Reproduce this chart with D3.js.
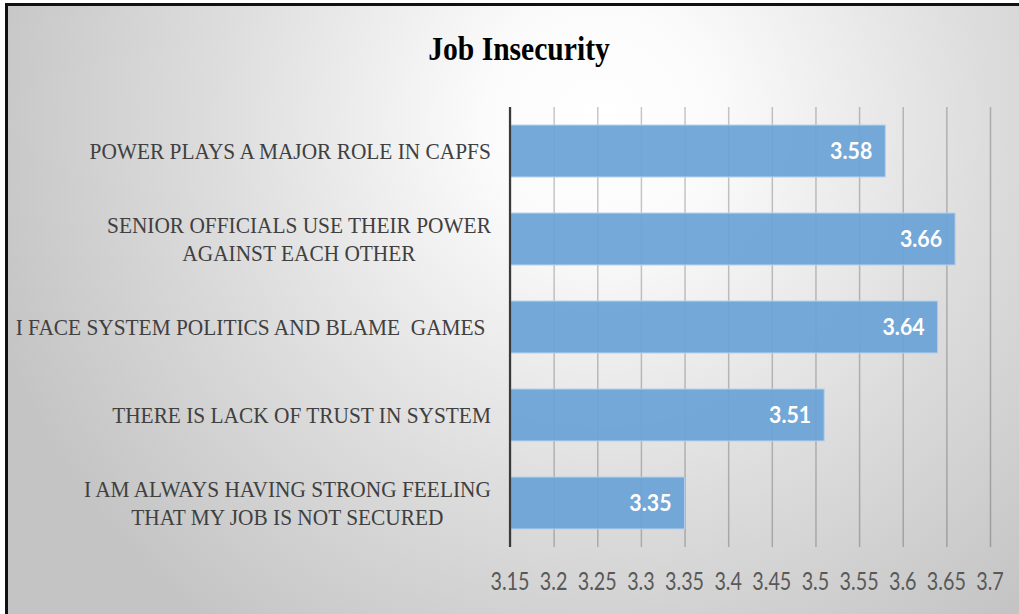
<!DOCTYPE html>
<html>
<head>
<meta charset="utf-8">
<script src="https://cdn.jsdelivr.net/npm/d3@7"></script>
<style>
  html, body { margin: 0; padding: 0; background: #ffffff; }
  svg { display: block; }
</style>
</head>
<body>
<svg id="chart" width="1019" height="614"></svg>
<script>
// ---- data ----
const title = "Job Insecurity";
const categories = [
  ["POWER PLAYS A MAJOR ROLE IN CAPFS"],
  ["SENIOR OFFICIALS USE THEIR POWER", "AGAINST EACH OTHER"],
  ["I FACE SYSTEM POLITICS AND BLAME  GAMES "],
  ["THERE IS LACK OF TRUST IN SYSTEM"],
  ["I AM ALWAYS HAVING STRONG FEELING", "THAT MY JOB IS NOT SECURED"]
];
const values = [3.58, 3.66, 3.64, 3.51, 3.35];
const tickValues = [3.15, 3.2, 3.25, 3.3, 3.35, 3.4, 3.45, 3.5, 3.55, 3.6, 3.65, 3.7];
const tickLabels = ["3.15", "3.2", "3.25", "3.3", "3.35", "3.4", "3.45", "3.5", "3.55", "3.6", "3.65", "3.7"];

// ---- setup ----
const svg = d3.select("#chart");
const W = 1019, H = 614;
const defs = svg.append("defs");
const grad = defs.append("radialGradient")
  .attr("id", "bg").attr("gradientUnits", "userSpaceOnUse")
  .attr("cx", 600).attr("cy", 120).attr("r", 640);
grad.append("stop").attr("offset", 0).attr("stop-color", "#ffffff");
grad.append("stop").attr("offset", 0.18).attr("stop-color", "#fbfbfb");
grad.append("stop").attr("offset", 0.6).attr("stop-color", "#dddddd");
grad.append("stop").attr("offset", 1).attr("stop-color", "#c4c4c4");

// background panel + frame
svg.append("rect").attr("x", 6).attr("y", 4).attr("width", W - 6).attr("height", H - 4).attr("fill", "url(#bg)");
svg.append("line").attr("x1", 5).attr("x2", W).attr("y1", 4.5).attr("y2", 4.5).attr("stroke", "#111").attr("stroke-width", 3);
svg.append("line").attr("x1", 6.5).attr("x2", 6.5).attr("y1", 3).attr("y2", H).attr("stroke", "#111").attr("stroke-width", 3);

// scales
const x = d3.scaleLinear().domain([3.15, 3.7]).range([510, 990]);
const y = d3.scaleBand().domain(d3.range(categories.length)).range([107, 547])
  .paddingInner(0.41).paddingOuter(0.205);

// title
svg.append("text")
  .attr("transform", `translate(519,60) scale(0.87,1)`)
  .attr("text-anchor", "middle")
  .attr("font-family", "'Liberation Serif', 'Times New Roman', serif")
  .attr("font-weight", "bold")
  .attr("font-size", 34)
  .attr("fill", "#000")
  .text(title);

// gridlines via axis
const gridAxis = d3.axisBottom(x).tickValues(tickValues).tickSize(-(547 - 107)).tickFormat("");
const gg = svg.append("g").attr("transform", "translate(0,547)").call(gridAxis);
gg.select(".domain").remove();
gg.selectAll(".tick line").attr("stroke", "#000").attr("stroke-opacity", 0.22).attr("stroke-width", 1.5);

// bars
svg.append("g").selectAll("rect").data(values).join("rect")
  .attr("x", x(3.15))
  .attr("y", (d, i) => y(i))
  .attr("width", d => x(d) - x(3.15))
  .attr("height", y.bandwidth())
  .attr("fill", "#6aa2d7")
  .attr("fill-opacity", 0.93)
  .attr("stroke", "#b2cfeb")
  .attr("stroke-width", 1);

// y axis line
svg.append("line").attr("x1", x(3.15)).attr("x2", x(3.15)).attr("y1", 107).attr("y2", 547)
  .attr("stroke", "#3a3a3a").attr("stroke-width", 2.2);

// value labels
svg.append("g").selectAll("text").data(values).join("text")
  .attr("transform", (d, i) => `translate(${x(d) - 13},${y(i) + y.bandwidth() / 2 + 8}) scale(0.97,1)`)
  .attr("text-anchor", "end")
  .attr("font-family", "Lato, 'Liberation Sans', sans-serif")
  .attr("font-weight", "bold")
  .attr("font-size", 22)
  .attr("fill", "#ffffff")
  .text(d => d.toFixed(2));

// tick labels
svg.append("g").selectAll("text").data(tickValues).join("text")
  .attr("transform", d => `translate(${x(d)},590) scale(0.79,1)`)
  .attr("text-anchor", "middle")
  .attr("font-family", "Lato, 'Liberation Sans', sans-serif")
  .attr("font-size", 25)
  .attr("fill", "#595959")
  .text((d, i) => tickLabels[i]);

// category labels (wrapped, lines centered, block right-aligned)
const sx = 0.89, lineH = 28, rightEdge = 491;
categories.forEach((lines, i) => {
  const cy = y(i) + y.bandwidth() / 2;
  const g = svg.append("g");
  const t = g.append("text")
    .attr("text-anchor", "middle")
    .attr("font-family", "'Liberation Serif', 'Times New Roman', serif")
    .attr("font-size", 24)
    .attr("fill", "#404040")
    .attr("xml:space", "preserve");
  lines.forEach((ln, j) => {
    t.append("tspan").attr("x", 0).attr("y", (j - (lines.length - 1) / 2) * lineH + 8).text(ln);
  });
  let maxW = 0;
  t.selectAll("tspan").each(function () { maxW = Math.max(maxW, this.getComputedTextLength()); });
  const cx = rightEdge - (maxW * sx) / 2;
  g.attr("transform", `translate(${cx},${cy}) scale(${sx},1)`);
});
</script>
</body>
</html>
